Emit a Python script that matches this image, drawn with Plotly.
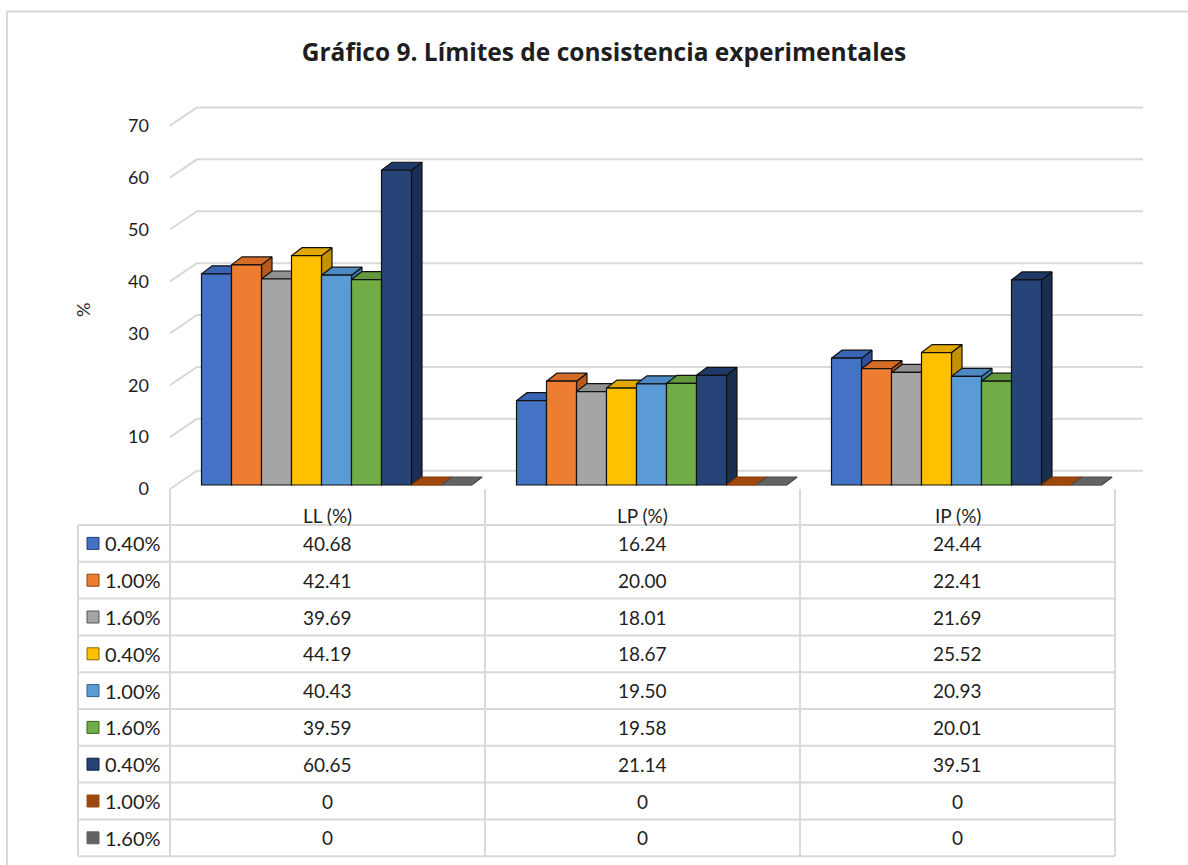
import plotly.graph_objects as go

# ---------------- data ----------------
categories = ["LL (%)", "LP (%)", "IP (%)"]
series_labels = ["0.40%", "1.00%", "1.60%", "0.40%", "1.00%", "1.60%",
                 "0.40%", "1.00%", "1.60%"]
serie_1 = [40.68, 16.24, 24.44]
serie_2 = [42.41, 20.00, 22.41]
serie_3 = [39.69, 18.01, 21.69]
serie_4 = [44.19, 18.67, 25.52]
serie_5 = [40.43, 19.50, 20.93]
serie_6 = [39.59, 19.58, 20.01]
serie_7 = [60.65, 21.14, 39.51]
serie_8 = [0, 0, 0]
serie_9 = [0, 0, 0]
series_values = [serie_1, serie_2, serie_3, serie_4, serie_5, serie_6,
                 serie_7, serie_8, serie_9]
y_ticks = [0, 10, 20, 30, 40, 50, 60, 70]

# ---------------- styling ----------------
front_colors = ["#4472C4", "#ED7D31", "#A5A5A5", "#FFC000", "#5B9BD5",
                "#70AD47", "#264478", "#9E480E", "#636363"]
top_colors = ["#3A64B4", "#D46C28", "#909090", "#E0A800", "#4D8AC4",
              "#61993C", "#1F3A68", "#9E480E", "#636363"]
side_colors = ["#2F529A", "#B85A1E", "#7A7A7A", "#C49200", "#3F76AA",
               "#527F33", "#1A2E52", "#7E390B", "#4F4F4F"]
key_borders = ["#1F3F7A", "#8A4310", "#555555", "#8A6A00", "#2E5E8C",
               "#3D6426", "#0F1E3A", "#9E480E", "#636363"]
EDGE = "#111111"
GRID = "#D9D9D9"
TEXT = "#1E1E1E"
FONT = "Lato"
TITLE_FONT = "Open Sans"

W, H = 1188, 865

# pixel geometry of the 3-D plot box
CAT_PX = 315.0            # width of one category
CAT0_PX = 327.5           # centre of the first category
Y_PX = 5.19               # pixels per percentage point
BASE_PX = 485.0           # screen row of the value 0 on the bar fronts
X_DOM_PX = (150.0, 1165.0)
Y_DOM_PX = (500.0, 88.0)  # bottom, top

x_range = [(X_DOM_PX[0] - CAT0_PX) / CAT_PX, (X_DOM_PX[1] - CAT0_PX) / CAT_PX]
y_range = [(BASE_PX - Y_DOM_PX[0]) / Y_PX, (BASE_PX - Y_DOM_PX[1]) / Y_PX]
x_dom = [X_DOM_PX[0] / W, X_DOM_PX[1] / W]
y_dom = [1 - Y_DOM_PX[0] / H, 1 - Y_DOM_PX[1] / H]

BW = 30.0 / CAT_PX                 # bar width in category units
BAR_START = -0.40                  # left edge of the first bar in a group
DX = 10.5 / CAT_PX                 # bar depth, horizontal
DY = 8.0 / Y_PX                    # bar depth, vertical
WALL_DX = 27.0 / CAT_PX            # back wall depth
FRONT_SHIFT = -0.77                # front edge of the floor
BACK_SHIFT = 2.75                  # back wall offset
WALL_RIGHT = 2.5 + 28.0 / CAT_PX

fig = go.Figure()

# back-wall gridlines with their slanted side-wall segments
gx, gy = [], []
for v in y_ticks:
    gx += [-0.5, -0.5 + WALL_DX, WALL_RIGHT, None]
    gy += [v + FRONT_SHIFT, v + BACK_SHIFT, v + BACK_SHIFT, None]
fig.add_trace(go.Scatter(x=gx, y=gy, mode="lines",
                         line=dict(color=GRID, width=2),
                         hoverinfo="skip", showlegend=False,
                         xaxis="x", yaxis="y"))

# top and side faces of each column (drawn beneath the column fronts)
for j, vals in enumerate(series_values):
    tx, ty, sx, sy = [], [], [], []
    for i, v in enumerate(vals):
        xl = i + BAR_START + j * BW
        xr = xl + BW
        tx += [xl, xr, xr + DX, xl + DX, xl, None]
        ty += [v, v, v + DY, v + DY, v, None]
        sx += [xr, xr + DX, xr + DX, xr, xr, None]
        sy += [0, DY, v + DY, v, 0, None]
    fig.add_trace(go.Scatter(x=sx, y=sy, mode="lines", fill="toself",
                             fillcolor=side_colors[j],
                             line=dict(color=EDGE, width=1.2),
                             hoverinfo="skip", showlegend=False,
                             xaxis="x", yaxis="y"))
    fig.add_trace(go.Scatter(x=tx, y=ty, mode="lines", fill="toself",
                             fillcolor=top_colors[j],
                             line=dict(color=EDGE if j < 7 else side_colors[j],
                                       width=1.2),
                             hoverinfo="skip", showlegend=False,
                             xaxis="x", yaxis="y"))

# column fronts
for j, vals in enumerate(series_values):
    fig.add_trace(go.Bar(x=list(range(len(categories))), y=vals,
                         width=BW, offset=BAR_START + j * BW,
                         marker=dict(color=front_colors[j],
                                     line=dict(color=EDGE if j < 7 else front_colors[j],
                                               width=1.2)),
                         name=series_labels[j], showlegend=False,
                         hoverinfo="skip", xaxis="x2", yaxis="y2"))

shapes = []
annotations = []

# outer frame of the chart area
shapes.append(dict(type="line", xref="paper", yref="paper",
                   x0=7 / W, x1=1, y0=1 - 11.5 / H, y1=1 - 11.5 / H,
                   line=dict(color=GRID, width=2)))
shapes.append(dict(type="line", xref="paper", yref="paper",
                   x0=7 / W, x1=7 / W, y0=0, y1=1 - 11.5 / H,
                   line=dict(color=GRID, width=2)))

# data table under the plot
ROW0 = 525.0
ROW_H = 36.8
TAB_LEFT = 78.0
TAB_TOP = 489.0
col_edges = [CAT0_PX - CAT_PX / 2 + k * CAT_PX for k in range(len(categories) + 1)]
TAB_RIGHT = col_edges[-1]
n_rows = len(series_values)
TAB_BOTTOM = ROW0 + n_rows * ROW_H


def px(x):
    return x / W


def py(y):
    return 1 - y / H


for k in range(n_rows + 1):
    yy = ROW0 + k * ROW_H
    shapes.append(dict(type="line", xref="paper", yref="paper",
                       x0=px(TAB_LEFT), x1=px(TAB_RIGHT), y0=py(yy), y1=py(yy),
                       line=dict(color=GRID, width=2)))
shapes.append(dict(type="line", xref="paper", yref="paper",
                   x0=px(TAB_LEFT), x1=px(TAB_LEFT), y0=py(ROW0), y1=py(TAB_BOTTOM),
                   line=dict(color=GRID, width=2)))
for xe in col_edges:
    shapes.append(dict(type="line", xref="paper", yref="paper",
                       x0=px(xe), x1=px(xe), y0=py(TAB_TOP), y1=py(TAB_BOTTOM),
                       line=dict(color=GRID, width=2)))

# column headers
for i, c in enumerate(categories):
    annotations.append(dict(text=c, xref="paper", yref="paper",
                            x=px(CAT0_PX + i * CAT_PX), y=py(ROW0 - 10),
                            xanchor="center", yanchor="middle", showarrow=False,
                            font=dict(family=FONT, size=19, color=TEXT)))

# rows: legend key, label and values
for j, vals in enumerate(series_values):
    yc = ROW0 + (j + 0.5) * ROW_H
    shapes.append(dict(type="rect", xref="paper", yref="paper",
                       x0=px(87), x1=px(99), y0=py(yc + 6), y1=py(yc - 6),
                       fillcolor=front_colors[j],
                       line=dict(color=key_borders[j], width=1)))
    annotations.append(dict(text=series_labels[j], xref="paper", yref="paper",
                            x=px(103), y=py(yc), xanchor="left", yanchor="middle",
                            showarrow=False,
                            font=dict(family=FONT, size=20, color=TEXT)))
    for i, v in enumerate(vals):
        annotations.append(dict(text=f"{v:.2f}" if v else "0",
                                xref="paper", yref="paper",
                                x=px(CAT0_PX + i * CAT_PX), y=py(yc),
                                xanchor="center", yanchor="middle", showarrow=False,
                                font=dict(family=FONT, size=19, color=TEXT)))

# axis title
annotations.append(dict(text="%", xref="paper", yref="paper",
                        x=px(83), y=py(310), textangle=-90,
                        xanchor="center", yanchor="middle", showarrow=False,
                        font=dict(family=FONT, size=18, color=TEXT)))

fig.update_layout(
    width=W, height=H,
    margin=dict(l=0, r=0, t=0, b=0),
    paper_bgcolor="white", plot_bgcolor="rgba(0,0,0,0)",
    barmode="overlay",
    title=dict(text="<b>Gráfico 9. Límites de consistencia experimentales</b>",
               x=604 / W, xanchor="center", y=py(52), yanchor="middle",
               font=dict(family=TITLE_FONT, size=24.5, color=TEXT)),
    xaxis=dict(domain=x_dom, range=x_range, visible=False, fixedrange=True),
    yaxis=dict(domain=y_dom, range=y_range, showgrid=False, zeroline=False,
               showline=False, ticks="",
               tickvals=[v + FRONT_SHIFT for v in y_ticks],
               ticktext=[str(v) for v in y_ticks],
               tickfont=dict(family=FONT, size=18, color=TEXT),
               fixedrange=True),
    xaxis2=dict(domain=x_dom, range=x_range, overlaying="x", visible=False,
                fixedrange=True),
    yaxis2=dict(domain=y_dom, range=y_range, overlaying="y", visible=False,
                fixedrange=True),
    shapes=shapes,
    annotations=annotations,
    font=dict(family=FONT, color=TEXT),
)

fig.write_html("out.html")
